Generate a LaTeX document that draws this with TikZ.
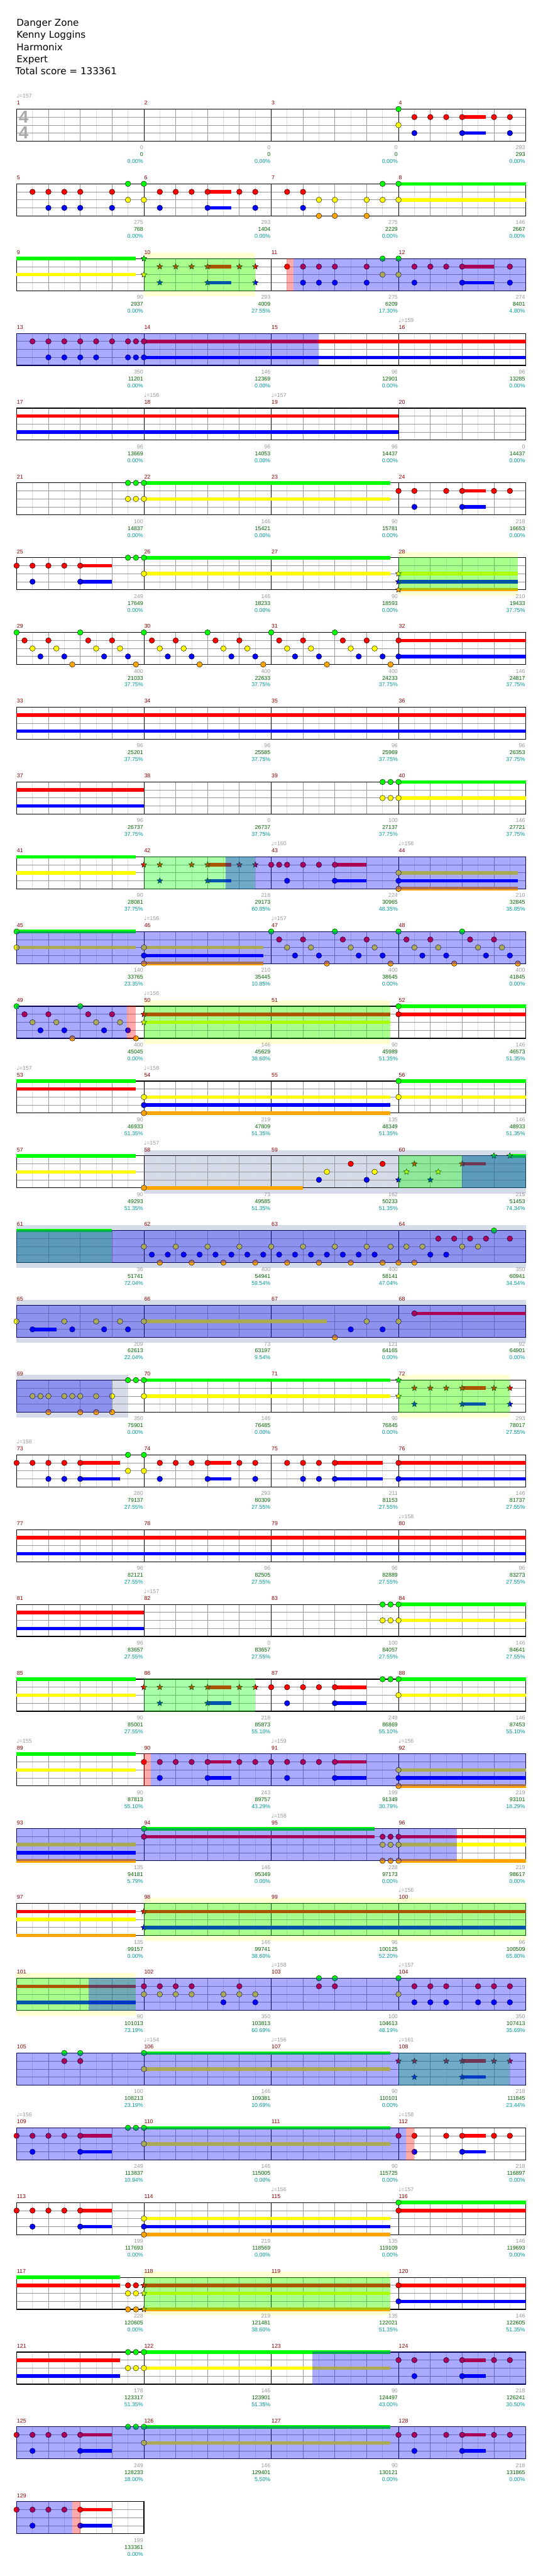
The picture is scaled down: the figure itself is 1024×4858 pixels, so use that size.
\documentclass[tikz,border=0pt]{standalone}
\usepackage{fontspec}
\setmainfont{Liberation Sans}
\newfontfamily\titlefont{DejaVu Sans}
\newfontfamily\symfont{DejaVu Sans}
\usetikzlibrary{shapes.geometric}
\definecolor{ngreen}{RGB}{0,255,0}
\definecolor{nred}{RGB}{255,0,0}
\definecolor{nyellow}{RGB}{255,255,0}
\definecolor{nblue}{RGB}{0,0,255}
\definecolor{norange}{RGB}{255,165,0}
\definecolor{gridgray}{RGB}{153,153,153}
\definecolor{halfgray}{RGB}{221,221,221}
\definecolor{mnumred}{RGB}{139,0,0}
\definecolor{scgray}{RGB}{153,153,153}
\definecolor{scgreen}{RGB}{0,100,0}
\definecolor{scteal}{RGB}{0,153,153}
\definecolor{tsgray}{RGB}{170,170,170}
\definecolor{odband}{RGB}{255,255,210}
\definecolor{fillband}{RGB}{213,219,232}
\begin{document}
\begin{tikzpicture}[x=1pt,y=-1pt,
  laneline/.style={gridgray,line width=0.9pt},
  beatline/.style={gridgray,line width=0.9pt},
  halfline/.style={halfgray,line width=0.9pt},
  barline/.style={black,line width=0.9pt},
  border/.style={black,line width=1.4pt},
  susbar/.style={line width=6.6pt},
  notec/.style={draw=black,line width=0.5pt},
  starnote/.style={star,star points=5,star point ratio=2.2,draw=black,line width=0.5pt,inner sep=0pt,minimum size=11.5pt},
  mnum/.style={text=mnumred,font=\fontsize{10.5}{12}\selectfont,anchor=base west,inner sep=0pt},
  sgray/.style={text=scgray,font=\fontsize{10.5}{12}\selectfont,anchor=base east,inner sep=0pt},
  sgreen/.style={text=scgreen,font=\fontsize{10.5}{12}\selectfont,anchor=base east,inner sep=0pt},
  spct/.style={text=scteal,font=\fontsize{10.5}{12}\selectfont,anchor=base east,inner sep=0pt},
  tmark/.style={text=scgray,font=\fontsize{10.5}{12}\selectfont,anchor=base west,inner sep=0pt},
  ttl/.style={font=\titlefont\fontsize{18}{22}\selectfont,anchor=base west,inner sep=0pt},
  tsig/.style={text=tsgray,font=\fontsize{33}{36}\selectfont\bfseries,inner sep=0pt}]
% row top, beat = 60.06, lane = 15.1
\def\rowy#1{\pgfmathsetmacro{\yT}{205.7+141*(#1-1)}}
\def\staff#1#2#3{%
  \rowy{#1}%
  \pgfmathsetmacro{\xE}{31.3+240.25*#3}%
  \pgfmathtruncatemacro{\nb}{4*#3-1}%
  \pgfmathtruncatemacro{\nm}{#3-1}%
  \foreach \i in {0,...,\nb}
    \draw[halfline] ({31.3+60.06*(\i+0.5)},\yT) -- ++(0,60.4);
  \foreach \i in {1,...,\nb}
    \draw[beatline] ({31.3+60.06*\i},\yT) -- ++(0,60.4);
  \foreach \k in {1,2,3}
    \draw[laneline] (31.3,{\yT+15.1*\k}) -- (\xE,{\yT+15.1*\k});
  \foreach \j in {0,...,\nm}{
    \pgfmathtruncatemacro{\mN}{#2+\j}
    \node[mnum] (mn\mN) at ({31.3+240.25*\j+0.5},{\yT-8}) {\mN};
    \ifnum\j>0 \draw[barline] ({31.3+240.25*\j},\yT) -- ++(0,60.4);\fi
  }
  \draw[border] (31.3,\yT) rectangle (\xE,{\yT+60.4});
}
\def\sus#1#2#3#4#5{\rowy{#1}%
  \draw[susbar,#3] ({31.3+60.06*#4},{\yT+15.1*#2}) -- ({31.3+60.06*#5},{\yT+15.1*#2});}
\def\nts#1#2#3#4{\rowy{#1}%
  \foreach \p in {#4}
    \filldraw[notec,fill=#3] ({31.3+60.06*\p},{\yT+15.1*#2}) circle (5.2pt);}
\def\sts#1#2#3#4{\rowy{#1}%
  \foreach \p [count=\i] in {#4}
    \node[starnote,fill=#3] (st#1-#2-\i) at ({31.3+60.06*\p},{\yT+15.1*#2}) {};}
\def\ovl#1#2#3#4{\rowy{#1}%
  \fill[#4,fill opacity=0.333] ({31.3+60.06*#2},{\yT-0.7}) rectangle ({31.3+60.06*#3},{\yT+61.1});}
\def\band#1#2#3#4{\rowy{#1}%
  \fill[#4] ({31.3+60.06*#2},{\yT-10.5}) rectangle ({31.3+60.06*#3},{\yT+70.9});}
\def\tempo#1#2#3{\rowy{#1}%
  \node[tmark] (tp#1-#2) at ({31.3+60.06*#2},{\yT-21}) {{\symfont\char"2669}=#3};}
\def\scores#1#2#3{\rowy{#1}%
  \foreach \vg/\vc/\vp [count=\j from 0] in {#3}{
    \pgfmathtruncatemacro{\mN}{#2+\j}
    \pgfmathsetmacro{\xs}{31.3+240.25*(\j+1)-1.2}
    \node[sgray] (sg\mN) at (\xs,{\yT+76.4}) {\vg};
    \node[sgreen] (sc\mN) at (\xs,{\yT+89.4}) {\vc};
    \node[spct] (sp\mN) at (\xs,{\yT+102.4}) {\vp\%};
  }}
\fill[white] (0,0) rectangle (1024,4858);
\useasboundingbox (0,0) rectangle (1024,4858);
% title
\node[ttl] (ttl1) at (31,49) {Danger Zone};
\node[ttl] (ttl2) at (31,72) {Kenny Loggins};
\node[ttl] (ttl3) at (31,95) {Harmonix};
\node[ttl] (ttl4) at (31,118) {Expert};
\node[ttl] (ttl5) at (29,141) {Total score = 133361};
% row 1
\staff{1}{1}{4}
\node[tsig] (ts1) at (44.5,220.5) {4};
\node[tsig] (ts2) at (44.5,250) {4};
\tempo{1}{0}{157}
\sus{1}{1}{nred}{14}{14.75}
\sus{1}{3}{nblue}{14}{14.75}
\nts{1}{0}{ngreen}{12}
\nts{1}{1}{nred}{12.5,13,13.5,14,15,15.5}
\nts{1}{2}{nyellow}{12}
\nts{1}{3}{nblue}{12.5,14,15.5}
\scores{1}{1}{0/0/0.00,0/0/0.00,0/0/0.00,293/293/0.00}
% row 2
\staff{2}{5}{4}
\sus{2}{1}{nred}{6}{6.75}
\sus{2}{3}{nblue}{6}{6.75}
\sus{2}{0}{ngreen}{12}{16}
\sus{2}{2}{nyellow}{12}{16}
\nts{2}{1}{nred}{0.5,1,1.5,2,3,4.5,5,5.5,6,7,7.5,8.5,9}
\nts{2}{0}{ngreen}{3.5,4,11.5,12}
\nts{2}{2}{nyellow}{3.5,4,9.5,10,11,11.5,12}
\nts{2}{3}{nblue}{1,1.5,2,3,4.5,6,7.5,9}
\nts{2}{4}{norange}{9.5,10,11}
\scores{2}{5}{275/768/0.00,293/1404/0.00,275/2229/0.00,146/2667/0.00}
% row 3
\band{3}{4}{7.5}{odband}
\staff{3}{9}{4}
\sus{3}{0}{ngreen}{0}{3.75}
\sus{3}{2}{nyellow}{0}{3.75}
\sus{3}{1}{nred}{6}{6.75}
\sus{3}{3}{nblue}{6}{6.75}
\sus{3}{1}{nred}{14}{15}
\sus{3}{3}{nblue}{14}{15}
\sts{3}{0}{ngreen}{4}
\sts{3}{2}{nyellow}{4}
\sts{3}{1}{nred}{4.5,5,5.5,6,7,7.5}
\sts{3}{3}{nblue}{4.5,6,7.5}
\nts{3}{1}{nred}{8.5,9,9.5,10,11,12.5,13,13.5,14,15.5}
\nts{3}{3}{nblue}{9,9.5,10,11,12.5,14,15.5}
\nts{3}{0}{ngreen}{11.5,12}
\nts{3}{2}{nyellow}{11.5,12}
\ovl{3}{4}{7.5}{ngreen}
\ovl{3}{8.71}{16}{nblue}
\ovl{3}{8.49}{8.71}{nred}
\scores{3}{9}{90/2937/0.00,293/4009/27.55,275/6209/17.30,274/8401/4.80}
% row 4
\staff{4}{13}{4}
\tempo{4}{12}{159}
\sus{4}{1}{nred}{4}{16}
\sus{4}{3}{nblue}{4}{16}
\nts{4}{1}{nred}{0.5,1,1.5,2,2.5,3,3.5,3.75,4}
\nts{4}{3}{nblue}{1,1.5,2,2.5,3.5,3.75,4}
\ovl{4}{0}{9.5}{nblue}
\scores{4}{13}{350/11201/0.00,146/12369/0.00,96/12901/0.00,96/13285/0.00}
% row 5
\staff{5}{17}{4}
\tempo{5}{4}{156}
\tempo{5}{8}{157}
\sus{5}{1}{nred}{0}{12}
\sus{5}{3}{nblue}{0}{12}
\scores{5}{17}{96/13669/0.00,96/14053/0.00,96/14437/0.00,0/14437/0.00}
% row 6
\staff{6}{21}{4}
\sus{6}{0}{ngreen}{4}{11.75}
\sus{6}{2}{nyellow}{4}{11.75}
\sus{6}{1}{nred}{14}{14.75}
\sus{6}{3}{nblue}{14}{14.75}
\nts{6}{0}{ngreen}{3.5,3.75,4}
\nts{6}{2}{nyellow}{3.5,3.75,4}
\nts{6}{1}{nred}{12,12.5,13.5,14,15,15.5}
\nts{6}{3}{nblue}{12.5,14}
\scores{6}{21}{100/14837/0.00,146/15421/0.00,90/15781/0.00,218/16653/0.00}
% row 7
\band{7}{12}{15.75}{odband}
\staff{7}{25}{4}
\sus{7}{1}{nred}{2}{3}
\sus{7}{3}{nblue}{2}{3}
\sus{7}{0}{ngreen}{4}{11.75}
\sus{7}{2}{nyellow}{4}{11.75}
\sus{7}{2}{nyellow}{12}{15.75}
\sus{7}{3}{nblue}{12}{15.75}
\sus{7}{4}{norange}{12}{15.75}
\nts{7}{1}{nred}{0,0.5,1,1.5,2}
\nts{7}{3}{nblue}{0.5,2}
\nts{7}{0}{ngreen}{3.5,3.75,4}
\nts{7}{2}{nyellow}{4}
\sts{7}{2}{nyellow}{12}
\sts{7}{3}{nblue}{12}
\sts{7}{4}{norange}{12}
\ovl{7}{12}{15.75}{ngreen}
\scores{7}{25}{249/17649/0.00,146/18233/0.00,90/18593/0.00,210/19433/37.75}
% row 8
\staff{8}{29}{4}
\sus{8}{1}{nred}{12}{16}
\sus{8}{3}{nblue}{12}{16}
\nts{8}{0}{ngreen}{0,2,4,6,8,10}
\nts{8}{1}{nred}{0.25,1,2.25,3,4.25,5,6.25,7,8.25,9,10.25,11,12}
\nts{8}{2}{nyellow}{0.5,1.25,2.5,3.25,4.5,5.25,6.5,7.25,8.5,9.25,10.5,11.25}
\nts{8}{3}{nblue}{0.75,1.5,2.75,3.5,4.75,5.5,6.75,7.5,8.75,9.5,10.75,11.5,12}
\nts{8}{4}{norange}{1.75,3.75,5.75,7.75,9.75,11.75}
\scores{8}{29}{400/21033/37.75,400/22633/37.75,400/24233/37.75,146/24817/37.75}
% row 9
\staff{9}{33}{4}
\sus{9}{1}{nred}{0}{16}
\sus{9}{3}{nblue}{0}{16}
\scores{9}{33}{96/25201/37.75,96/25585/37.75,96/25969/37.75,96/26353/37.75}
% row 10
\staff{10}{37}{4}
\sus{10}{1}{nred}{0}{4}
\sus{10}{3}{nblue}{0}{4}
\sus{10}{0}{ngreen}{12}{16}
\sus{10}{2}{nyellow}{12}{16}
\nts{10}{0}{ngreen}{11.5,11.75,12}
\nts{10}{2}{nyellow}{11.5,11.75,12}
\scores{10}{37}{96/26737/37.75,0/26737/37.75,100/27137/37.75,146/27721/37.75}
% row 11
\staff{11}{41}{4}
\tempo{11}{8}{160}
\tempo{11}{12}{158}
\sus{11}{0}{ngreen}{0}{3.75}
\sus{11}{2}{nyellow}{0}{3.75}
\sus{11}{1}{nred}{6}{6.75}
\sus{11}{3}{nblue}{6}{6.75}
\sus{11}{1}{nred}{10}{11}
\sus{11}{3}{nblue}{10}{11}
\sus{11}{2}{nyellow}{12}{15.75}
\sus{11}{3}{nblue}{12}{15.75}
\sus{11}{4}{norange}{12}{15.75}
\sts{11}{1}{nred}{4,4.5,5.5,6,7,7.5}
\sts{11}{3}{nblue}{4.5,6}
\nts{11}{1}{nred}{8,8.25,8.5,9,9.5,10}
\nts{11}{3}{nblue}{8.5,10,12}
\nts{11}{2}{nyellow}{12}
\nts{11}{4}{norange}{12}
\ovl{11}{4}{7.5}{ngreen}
\ovl{11}{6.56}{16}{nblue}
\scores{11}{41}{90/28081/37.75,218/29173/60.85,224/30965/48.35,210/32845/35.85}
% row 12
\staff{12}{45}{4}
\tempo{12}{4}{156}
\tempo{12}{8}{157}
\sus{12}{0}{ngreen}{0}{3.75}
\sus{12}{2}{nyellow}{0}{3.75}
\sus{12}{2}{nyellow}{4}{7.75}
\sus{12}{3}{nblue}{4}{7.75}
\sus{12}{4}{norange}{4}{7.75}
\nts{12}{0}{ngreen}{0,8,10,12,14}
\nts{12}{1}{nred}{8.25,9,10.25,11,12.25,13,14.25,15}
\nts{12}{2}{nyellow}{0,4,8.5,9.25,10.5,11.25,12.5,13.25,14.5,15.25}
\nts{12}{3}{nblue}{4,8.75,9.5,10.75,11.5,12.75,13.5,14.75,15.5}
\nts{12}{4}{norange}{4,9.75,11.75,13.75,15.75}
\ovl{12}{0}{16}{nblue}
\scores{12}{45}{140/33765/23.35,210/35445/10.85,400/38645/0.00,400/41845/0.00}
% row 13
\band{13}{4}{11.75}{odband}
\staff{13}{49}{4}
\tempo{13}{4}{156}
\sus{13}{1}{nred}{4}{11.75}
\sus{13}{2}{nyellow}{4}{11.75}
\sus{13}{0}{ngreen}{12}{16}
\sus{13}{1}{nred}{12}{16}
\nts{13}{0}{ngreen}{0,2,12}
\nts{13}{1}{nred}{0.25,1,2.25,3,12}
\nts{13}{2}{nyellow}{0.5,1.25,2.5,3.25}
\nts{13}{3}{nblue}{0.75,1.5,2.75,3.5}
\nts{13}{4}{norange}{1.75,3.75}
\sts{13}{1}{nred}{4}
\sts{13}{2}{nyellow}{4}
\ovl{13}{0}{3.46}{nblue}
\ovl{13}{3.46}{3.75}{nred}
\ovl{13}{4}{11.75}{ngreen}
\scores{13}{49}{400/45045/0.00,146/45629/38.60,90/45989/51.35,146/46573/51.35}
% row 14
\staff{14}{53}{4}
\tempo{14}{0}{157}
\tempo{14}{4}{158}
\sus{14}{0}{ngreen}{0}{3.75}
\sus{14}{1}{nred}{0}{3.75}
\sus{14}{2}{nyellow}{4}{11.75}
\sus{14}{3}{nblue}{4}{11.75}
\sus{14}{4}{norange}{4}{11.75}
\sus{14}{0}{ngreen}{12}{16}
\sus{14}{2}{nyellow}{12}{16}
\nts{14}{2}{nyellow}{4,12}
\nts{14}{3}{nblue}{4}
\nts{14}{4}{norange}{4}
\nts{14}{0}{ngreen}{12}
\scores{14}{53}{90/46933/51.35,219/47809/51.35,135/48349/51.35,146/48933/51.35}
% row 15
\band{15}{4}{16}{fillband}
\staff{15}{57}{4}
\tempo{15}{4}{157}
\sus{15}{0}{ngreen}{0}{3.75}
\sus{15}{2}{nyellow}{0}{3.75}
\sus{15}{4}{norange}{4}{9}
\sus{15}{1}{nred}{14}{14.75}
\sus{15}{0}{ngreen}{15.5}{16}
\nts{15}{4}{norange}{4}
\nts{15}{3}{nblue}{9.5,11}
\nts{15}{2}{nyellow}{9.75,11.25}
\nts{15}{1}{nred}{10.5,11.5}
\sts{15}{3}{nblue}{12,13}
\sts{15}{2}{nyellow}{12.25,13.25}
\sts{15}{1}{nred}{12.5,14}
\sts{15}{0}{ngreen}{15,15.5}
\ovl{15}{12}{16}{ngreen}
\ovl{15}{14}{16}{nblue}
\scores{15}{57}{90/49293/51.35,73/49585/51.35,162/50233/51.35,215/51453/74.34}
% row 16
\band{16}{0}{16}{fillband}
\staff{16}{61}{4}
\sus{16}{0}{ngreen}{0}{3}
\nts{16}{2}{nyellow}{4,5,6,7,8,9,10,11,11.75,12.25,12.75,14,14.5}
\nts{16}{3}{nblue}{4.25,4.75,5.25,5.75,6.25,6.75,7.25,7.75,8.25,8.75,9.25,9.75,10.25,10.75,11.25,13,13.5}
\nts{16}{4}{norange}{4.5,5.5,6.5,7.5,8.5,9.5,10.5,11.5,12,12.5}
\nts{16}{1}{nred}{13.25,13.75,14.25,14.75,15.5}
\nts{16}{0}{ngreen}{15}
\ovl{16}{0}{3}{ngreen}
\ovl{16}{0}{16}{nblue}
\scores{16}{61}{36/51741/72.04,400/54941/59.54,400/58141/47.04,350/60941/34.54}
% row 17
\band{17}{0}{16}{fillband}
\staff{17}{65}{4}
\sus{17}{3}{nblue}{0.5}{1.25}
\sus{17}{2}{nyellow}{4}{9.75}
\sus{17}{1}{nred}{12.5}{16}
\nts{17}{2}{nyellow}{0,1.5,2.5,3.25,4,11,12}
\nts{17}{3}{nblue}{0.5,1.75,2.75,3.5,10.5,11.5}
\nts{17}{4}{norange}{10}
\nts{17}{1}{nred}{12.5}
\ovl{17}{0}{16}{nblue}
\scores{17}{65}{209/62613/22.04,73/63197/9.54,121/64165/0.00,92/64901/0.00}
% row 18
\band{18}{0}{3.5}{fillband}
\band{18}{12}{15.5}{odband}
\staff{18}{69}{4}
\sus{18}{0}{ngreen}{4}{11.75}
\sus{18}{2}{nyellow}{4}{11.75}
\sus{18}{1}{nred}{14}{14.75}
\sus{18}{3}{nblue}{14}{14.75}
\nts{18}{2}{nyellow}{0.5,0.75,1,1.5,1.75,2,2.5,3,4}
\nts{18}{4}{norange}{1,2,2.5,3}
\nts{18}{0}{ngreen}{3.5,3.75,4}
\sts{18}{0}{ngreen}{12}
\sts{18}{2}{nyellow}{12}
\sts{18}{1}{nred}{12.5,13,13.5,14,15,15.5}
\sts{18}{3}{nblue}{12.5,14,15.5}
\ovl{18}{0}{3}{nblue}
\ovl{18}{12}{15.5}{ngreen}
\scores{18}{69}{350/75901/0.00,146/76485/0.00,90/76845/0.00,293/78017/27.55}
% row 19
\staff{19}{73}{4}
\tempo{19}{0}{158}
\sus{19}{1}{nred}{2}{3.25}
\sus{19}{3}{nblue}{2}{3.25}
\sus{19}{1}{nred}{6}{6.75}
\sus{19}{3}{nblue}{6}{6.75}
\sus{19}{1}{nred}{10}{11.5}
\sus{19}{3}{nblue}{10}{11.5}
\sus{19}{1}{nred}{12}{16}
\sus{19}{3}{nblue}{12}{16}
\nts{19}{1}{nred}{0,0.5,1,1.5,2,4.5,5,5.5,6,7,7.5,8.5,9,9.5,10,12}
\nts{19}{0}{ngreen}{3.5,4}
\nts{19}{2}{nyellow}{3.5,4}
\nts{19}{3}{nblue}{1,1.5,2,4.5,6,7.5,9,9.5,10,12}
\scores{19}{73}{280/79137/27.55,293/80309/27.55,211/81153/27.55,146/81737/27.55}
% row 20
\staff{20}{77}{4}
\tempo{20}{12}{158}
\sus{20}{1}{nred}{0}{16}
\sus{20}{3}{nblue}{0}{16}
\scores{20}{77}{96/82121/27.55,96/82505/27.55,96/82889/27.55,96/83273/27.55}
% row 21
\staff{21}{81}{4}
\tempo{21}{4}{157}
\sus{21}{1}{nred}{0}{4}
\sus{21}{3}{nblue}{0}{4}
\sus{21}{0}{ngreen}{12}{16}
\sus{21}{2}{nyellow}{12}{16}
\nts{21}{0}{ngreen}{11.5,11.75,12}
\nts{21}{2}{nyellow}{11.5,11.75,12}
\scores{21}{81}{96/83657/27.55,0/83657/27.55,100/84057/27.55,146/84641/27.55}
% row 22
\staff{22}{85}{4}
\sus{22}{0}{ngreen}{0}{3.75}
\sus{22}{2}{nyellow}{0}{3.75}
\sus{22}{1}{nred}{6}{6.75}
\sus{22}{3}{nblue}{6}{6.75}
\sus{22}{1}{nred}{10}{11}
\sus{22}{3}{nblue}{10}{11}
\sus{22}{0}{ngreen}{12}{16}
\sus{22}{2}{nyellow}{12}{16}
\sts{22}{1}{nred}{4,4.5,5.5,6,7,7.5}
\sts{22}{3}{nblue}{4.5,6}
\nts{22}{1}{nred}{8,8.5,9,9.5,10}
\nts{22}{3}{nblue}{8.5,10}
\nts{22}{0}{ngreen}{11.5,11.75,12}
\nts{22}{2}{nyellow}{12}
\ovl{22}{4}{7.5}{ngreen}
\scores{22}{85}{90/85001/27.55,218/85873/55.10,249/86869/55.10,146/87453/55.10}
% row 23
\staff{23}{89}{4}
\tempo{23}{0}{155}
\tempo{23}{8}{159}
\tempo{23}{12}{156}
\sus{23}{0}{ngreen}{0}{3.75}
\sus{23}{2}{nyellow}{0}{3.75}
\sus{23}{1}{nred}{6}{6.75}
\sus{23}{3}{nblue}{6}{6.75}
\sus{23}{1}{nred}{10}{11}
\sus{23}{3}{nblue}{10}{11}
\sus{23}{2}{nyellow}{12}{16}
\sus{23}{3}{nblue}{12}{16}
\sus{23}{4}{norange}{12}{16}
\nts{23}{1}{nred}{4,4.5,5,5.5,6,7,7.5,8,8.5,9,9.5,10}
\nts{23}{3}{nblue}{4.5,6,8.5,10,12}
\nts{23}{2}{nyellow}{12}
\nts{23}{4}{norange}{12}
\ovl{23}{4.21}{16}{nblue}
\ovl{23}{3.99}{4.21}{nred}
\scores{23}{89}{90/87813/55.10,243/89757/43.29,199/91349/30.79,219/93101/18.29}
% row 24
\staff{24}{93}{4}
\tempo{24}{8}{158}
\sus{24}{2}{nyellow}{0}{3.75}
\sus{24}{3}{nblue}{0}{3.75}
\sus{24}{4}{norange}{0}{3.75}
\sus{24}{0}{ngreen}{4}{11.25}
\sus{24}{1}{nred}{4}{11.25}
\sus{24}{1}{nred}{12}{16}
\sus{24}{2}{nyellow}{12}{16}
\sus{24}{4}{norange}{12}{16}
\nts{24}{0}{ngreen}{4}
\nts{24}{1}{nred}{4,11.5,11.75,12}
\nts{24}{2}{nyellow}{11.5,11.75,12}
\nts{24}{4}{norange}{11.5,11.75,12}
\ovl{24}{0}{13.84}{nblue}
\scores{24}{93}{135/94181/5.79,146/95349/0.00,228/97173/0.00,219/98617/0.00}
% row 25
\band{25}{4}{16}{odband}
\staff{25}{97}{4}
\tempo{25}{12}{156}
\sus{25}{1}{nred}{0}{3.75}
\sus{25}{2}{nyellow}{0}{3.75}
\sus{25}{4}{norange}{0}{3.75}
\sus{25}{1}{nred}{4}{16}
\sus{25}{3}{nblue}{4}{16}
\sts{25}{1}{nred}{4}
\sts{25}{3}{nblue}{4}
\ovl{25}{4}{16}{ngreen}
\scores{25}{97}{135/99157/0.00,146/99741/38.60,96/100125/52.20,96/100509/65.80}
% row 26
\band{26}{0}{3.75}{odband}
\staff{26}{101}{4}
\tempo{26}{8}{158}
\tempo{26}{12}{157}
\sus{26}{1}{nred}{0}{3.75}
\sus{26}{3}{nblue}{0}{3.75}
\nts{26}{1}{nred}{4,4.5,5,5.5,7,9.5,10,12.5,13,13.5,14.5,15,15.5}
\nts{26}{2}{nyellow}{4,4.5,5,5.5,6.5,7,7.5,12}
\nts{26}{3}{nblue}{6.5,7.5,12.5,13,13.5,14.5,15,15.5}
\nts{26}{0}{ngreen}{9.5,10,12}
\ovl{26}{0}{3.75}{ngreen}
\ovl{26}{2.27}{16}{nblue}
\scores{26}{101}{90/101013/73.19,350/103813/60.69,100/104613/48.19,350/107413/35.69}
% row 27
\staff{27}{105}{4}
\tempo{27}{4}{154}
\tempo{27}{8}{156}
\tempo{27}{12}{161}
\sus{27}{0}{ngreen}{4}{11.75}
\sus{27}{2}{nyellow}{4}{11.75}
\sus{27}{1}{nred}{14}{14.75}
\sus{27}{3}{nblue}{14}{14.75}
\nts{27}{0}{ngreen}{1.5,2,4}
\nts{27}{1}{nred}{1.5,2}
\nts{27}{2}{nyellow}{4}
\sts{27}{1}{nred}{12,12.5,13.5,14,15,15.5}
\sts{27}{3}{nblue}{12.5,14}
\ovl{27}{12}{15.5}{ngreen}
\ovl{27}{0}{16}{nblue}
\scores{27}{105}{100/108213/23.19,146/109381/10.69,90/110101/0.00,218/111845/23.44}
% row 28
\staff{28}{109}{4}
\tempo{28}{0}{156}
\tempo{28}{12}{158}
\sus{28}{1}{nred}{2}{3}
\sus{28}{3}{nblue}{2}{3}
\sus{28}{0}{ngreen}{4}{11.75}
\sus{28}{2}{nyellow}{4}{11.75}
\sus{28}{1}{nred}{14}{14.75}
\sus{28}{3}{nblue}{14}{14.75}
\nts{28}{1}{nred}{0,0.5,1,1.5,2,12,12.5,13.5,14,15,15.5}
\nts{28}{3}{nblue}{0.5,2,12.5,14}
\nts{28}{0}{ngreen}{3.5,3.75,4}
\nts{28}{2}{nyellow}{4}
\ovl{28}{0}{12.24}{nblue}
\ovl{28}{12.24}{12.5}{nred}
\scores{28}{109}{249/113837/10.94,146/115005/0.00,90/115725/0.00,218/116897/0.00}
% row 29
\staff{29}{113}{4}
\tempo{29}{8}{156}
\tempo{29}{12}{157}
\sus{29}{1}{nred}{2}{3}
\sus{29}{3}{nblue}{2}{3}
\sus{29}{2}{nyellow}{4}{11.75}
\sus{29}{3}{nblue}{4}{11.75}
\sus{29}{4}{norange}{4}{11.75}
\sus{29}{0}{ngreen}{12}{16}
\sus{29}{1}{nred}{12}{16}
\nts{29}{1}{nred}{0,0.5,1,1.5,2,12}
\nts{29}{3}{nblue}{0.5,2,4}
\nts{29}{2}{nyellow}{4}
\nts{29}{4}{norange}{4}
\nts{29}{0}{ngreen}{12}
\scores{29}{113}{199/117693/0.00,219/118569/0.00,135/119109/0.00,146/119693/0.00}
% row 30
\band{30}{4}{11.75}{odband}
\staff{30}{117}{4}
\sus{30}{0}{ngreen}{0}{3.25}
\sus{30}{1}{nred}{0}{3.25}
\sus{30}{1}{nred}{4}{11.75}
\sus{30}{2}{nyellow}{4}{11.75}
\sus{30}{4}{norange}{4}{11.75}
\sus{30}{1}{nred}{12}{16}
\sus{30}{3}{nblue}{12}{16}
\nts{30}{1}{nred}{3.5,3.75,12}
\nts{30}{2}{nyellow}{3.5,3.75}
\nts{30}{4}{norange}{3.5,3.75}
\nts{30}{3}{nblue}{12}
\sts{30}{1}{nred}{4}
\sts{30}{2}{nyellow}{4}
\sts{30}{4}{norange}{4}
\ovl{30}{4}{11.75}{ngreen}
\scores{30}{117}{228/120605/0.00,219/121481/38.60,135/122021/51.35,146/122605/51.35}
% row 31
\staff{31}{121}{4}
\sus{31}{1}{nred}{0}{3.25}
\sus{31}{3}{nblue}{0}{3.25}
\sus{31}{0}{ngreen}{4}{11.75}
\sus{31}{2}{nyellow}{4}{11.75}
\sus{31}{1}{nred}{14}{14.75}
\sus{31}{3}{nblue}{14}{14.75}
\nts{31}{0}{ngreen}{3.5,3.75,4}
\nts{31}{2}{nyellow}{3.5,3.75,4}
\nts{31}{1}{nred}{12,12.5,13.5,14,15,15.5}
\nts{31}{3}{nblue}{12.5,14}
\ovl{31}{9.3}{16}{nblue}
\scores{31}{121}{178/123317/51.35,146/123901/51.35,90/124497/43.00,218/126241/30.50}
% row 32
\staff{32}{125}{4}
\sus{32}{1}{nred}{2}{3}
\sus{32}{3}{nblue}{2}{3}
\sus{32}{0}{ngreen}{4}{11.75}
\sus{32}{2}{nyellow}{4}{11.75}
\sus{32}{1}{nred}{14}{14.75}
\sus{32}{3}{nblue}{14}{14.75}
\nts{32}{1}{nred}{0,0.5,1,1.5,2,12,12.5,13.5,14,15,15.5}
\nts{32}{3}{nblue}{0.5,2,12.5,14}
\nts{32}{0}{ngreen}{3.5,3.75,4}
\nts{32}{2}{nyellow}{4}
\ovl{32}{0}{16}{nblue}
\scores{32}{125}{249/128233/18.00,146/129401/5.50,90/130121/0.00,218/131865/0.00}
% row 33
\staff{33}{129}{1}
\sus{33}{1}{nred}{2}{3}
\sus{33}{3}{nblue}{2}{3}
\nts{33}{1}{nred}{0,0.5,1,1.5,2}
\nts{33}{3}{nblue}{0.5,2}
\ovl{33}{0}{1.74}{nblue}
\ovl{33}{1.74}{2}{nred}
\scores{33}{129}{199/133361/0.00}
\end{tikzpicture}
\end{document}
